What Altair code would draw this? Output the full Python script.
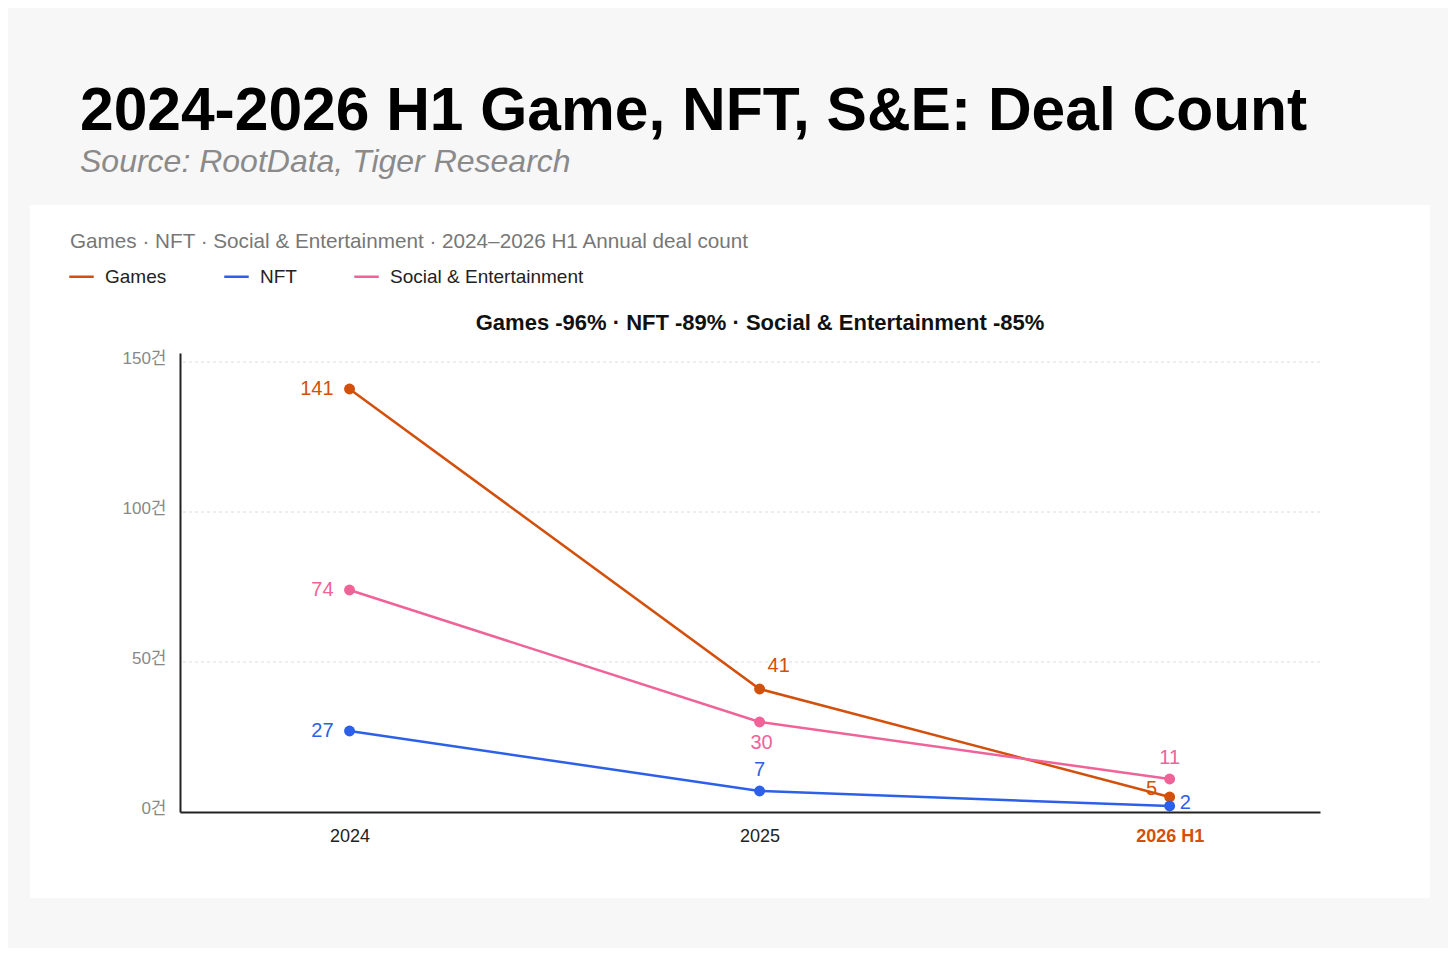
import pandas as pd
import altair as alt

FONT = "Liberation Sans, Noto Sans CJK KR, sans-serif"

periods = ["2024", "2025", "2026 H1"]
series = ["Games", "NFT", "Social & Entertainment"]
games = [141, 41, 5]
nft = [27, 7, 2]
social = [74, 30, 11]
colors = ["#d2500c", "#2d60e8", "#ef6399"]
y_ticks = [0, 50, 100, 150]

# which side of its point each value label sits on
label_side = {
	("Games", "2024"): "left", ("Games", "2025"): "above_right", ("Games", "2026 H1"): "above_left",
	("NFT", "2024"): "left", ("NFT", "2025"): "above", ("NFT", "2026 H1"): "right",
	("Social & Entertainment", "2024"): "left", ("Social & Entertainment", "2025"): "below",
	("Social & Entertainment", "2026 H1"): "above",
}
sides = {
	"left": ("right", -16, 0),
	"right": ("left", 10, -3),
	"above": ("center", 0, -21),
	"below": ("center", 2, 21),
	"above_right": ("left", 8, -23),
	"above_left": ("center", -18, -8),
}

rows = []
for name, values in zip(series, [games, nft, social]):
	for period, value in zip(periods, values):
		rows.append({"series": name, "period": period, "count": value, "side": label_side[(name, period)]})
df = pd.DataFrame(rows)

x = alt.X("period:N", sort = periods, scale = alt.Scale(type = "point", padding = 0.39, align = 0.53),
	axis = alt.Axis(title = None, labelAngle = 0, ticks = False, grid = False, domainColor = "#222", domainWidth = 2,
		labelFontSize = 18, labelPadding = 15, labelFont = FONT, zindex = 1,
		labelColor = {"condition": {"test": "datum.value == '2026 H1'", "value": colors[0]}, "value": "#222"},
		labelFontWeight = {"condition": {"test": "datum.value == '2026 H1'", "value": "bold"}, "value": "normal"}))
y_scale = alt.Scale(domain = [0, 153], nice = False)
y_axis = alt.Axis(title = None, values = y_ticks, labelExpr = "datum.value + '건'", ticks = False, grid = False,
	domainColor = "#222", domainWidth = 2, labelColor = "#888", labelFontSize = 17, labelFont = FONT,
	labelPadding = 14, labelOffset = -4, zindex = 1)
y = alt.Y("count:Q", scale = y_scale, axis = y_axis)
color = alt.Color("series:N", scale = alt.Scale(domain = series, range = colors), sort = series,
	legend = alt.Legend(title = None, orient = "none", legendX = -112, legendY = -90, direction = "horizontal",
		symbolType = "stroke", symbolStrokeWidth = 2.5, symbolSize = 600, labelFontSize = 19, labelColor = "#222",
		labelFont = FONT, labelLimit = 400, columnPadding = 52, labelOffset = 10))

base = alt.Chart(df)
grid = alt.Chart(pd.DataFrame({"tick": y_ticks[1:]})).mark_rule(color = "#dcdcdc", strokeDash = [3, 3]).encode(
	y = alt.Y("tick:Q", scale = y_scale, axis = y_axis))
lines = base.mark_line(strokeWidth = 2.5).encode(x = x, y = y, color = color)
points = base.mark_circle(size = 120, opacity = 1).encode(x = x, y = y, color = alt.Color("series:N", legend = None))

labels = []
for side, (align, dx, dy) in sides.items():
	labels.append(base.transform_filter(alt.datum.side == side)
		.mark_text(align = align, baseline = "middle", dx = dx, dy = dy, fontSize = 20, font = FONT)
		.encode(x = x, y = y, text = "count:Q", color = alt.Color("series:N", legend = None)))

one = pd.DataFrame({"n": [0]})
card = alt.Chart(one).mark_rect(color = "white").encode(
	x = alt.value(-150), x2 = alt.value(1250), y = alt.value(-148), y2 = alt.value(545))
head = alt.Chart(one).mark_text(align = "left", baseline = "alphabetic", fontSize = 60.5, fontWeight = "bold",
	font = FONT, color = "#000").encode(x = alt.value(-100), y = alt.value(-223),
	text = alt.value("2024-2026 H1 Game, NFT, S&E: Deal Count"))
source = alt.Chart(one).mark_text(align = "left", baseline = "alphabetic", fontSize = 32, fontStyle = "italic",
	font = FONT, color = "#8a8a8a").encode(x = alt.value(-100), y = alt.value(-181),
	text = alt.value("Source: RootData, Tiger Research"))
caption = alt.Chart(one).mark_text(align = "left", baseline = "alphabetic", fontSize = 20.7,
	font = FONT, color = "#777").encode(x = alt.value(-110), y = alt.value(-105),
	text = alt.value("Games · NFT · Social & Entertainment · 2024–2026 H1 Annual deal count"))
summary = alt.Chart(one).mark_text(align = "center", baseline = "middle", fontSize = 22, fontWeight = "bold",
	font = FONT, color = "#111").encode(x = alt.value(580), y = alt.value(-30),
	text = alt.value("Games -96% · NFT -89% · Social & Entertainment -85%"))

chart = alt.layer(card, head, source, caption, summary, grid, lines, points, *labels).properties(
	width = 1140, height = 459,
	autosize = alt.AutoSizeParams(type = "none"),
	padding = {"left": 172, "top": 345, "right": 128, "bottom": 136},
	background = "#f7f7f7",
).configure_view(stroke = None)

chart.save("out.html", embed_options = {"renderer": "svg", "actions": False})
